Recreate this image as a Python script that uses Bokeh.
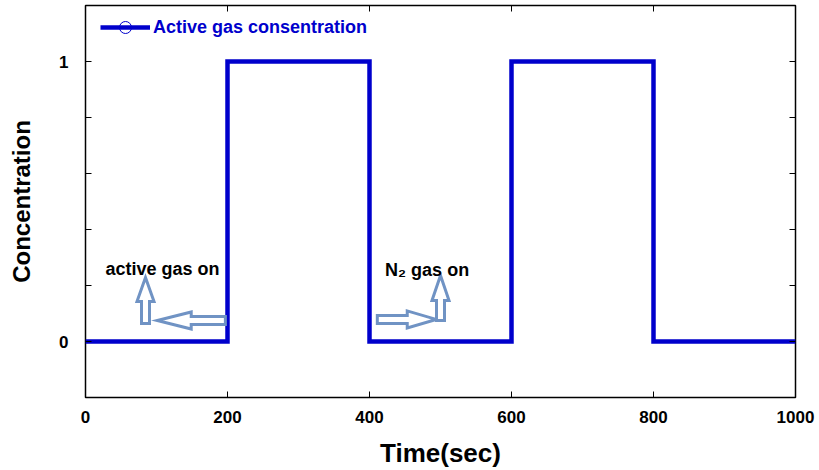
import numpy as np
from bokeh.plotting import figure
from bokeh.models import (FixedTicker, LinearAxis, Legend, LegendItem, Label,
                          ColumnDataSource, Range1d)
from bokeh.embed import file_html
from bokeh.resources import INLINE

# ---- data ----
time_s = [0, 200, 400, 600, 800, 1000]
concentration = [0, 1, 0, 1, 0, 0]
x_ticks = [0, 200, 400, 600, 800, 1000]
y_labelled_ticks = [0, 1]
y_minor_ticks = [0.2, 0.4, 0.6, 0.8]
y_all_ticks = [0, 0.2, 0.4, 0.6, 0.8, 1.0]
top_ticks = [200, 400, 600, 800]
series_name = "Active gas consentration"
x_title = "Time(sec)"
y_title = "Concentration"
note_texts = ["active gas on", "N\u2082 gas on"]
note_x = [28, 422]
note_y = [0.26, 0.257]
# arrows: tail (x, y) -> tip (x, y), in data units
arrow_tail_x = [84.5, 197, 411, 500]
arrow_tail_y = [0.064, 0.075, 0.079, 0.075]
arrow_tip_x = [84.5, 101, 494, 500]
arrow_tip_y = [0.229, 0.075, 0.079, 0.236]
arrow_head_px = [24, 34, 29, 25]

# ---- layout ----
W, H = 819, 470
ML, MR, MT, MB = 85, 24, 5, 73
FW = W - ML - MR
FH = H - MT - MB
X0, X1 = 0, 1000
Y0, Y1 = -0.2, 1.2
BLUE = "#0000CC"
ARROW = "#7093C4"
FONT = "Liberation Sans"

p = figure(width=W, height=H, x_range=Range1d(X0, X1), y_range=Range1d(Y0, Y1),
           output_backend="svg", toolbar_location=None,
           min_border_left=ML, min_border_right=MR, min_border_top=MT,
           min_border_bottom=MB, background_fill_color="white",
           border_fill_color="white")
p.xgrid.visible = False
p.ygrid.visible = False
p.outline_line_color = "black"
p.outline_line_width = 1.5
# range used only so that the curve's symbols stay out of view (legend shows them)
p.extra_y_ranges = {"symbols": Range1d(100, 101)}

def style_axis(ax, ticks, minor):
    ax.ticker = FixedTicker(ticks=ticks, minor_ticks=minor)
    ax.axis_line_color = None
    ax.major_tick_in = 6
    ax.major_tick_out = 0
    ax.minor_tick_in = 6
    ax.minor_tick_out = 0
    ax.major_tick_line_color = "black"
    ax.minor_tick_line_color = "black"
    ax.major_tick_line_width = 1
    ax.minor_tick_line_width = 1
    ax.major_label_text_font = FONT
    ax.major_label_text_font_style = "bold"
    ax.major_label_text_color = "black"
    ax.major_label_text_font_size = "17px"
    ax.axis_label_text_font = FONT
    ax.axis_label_text_font_style = "bold"
    ax.axis_label_text_color = "black"

xa = p.xaxis[0]
style_axis(xa, x_ticks, [])
xa.major_label_standoff = 13
xa.axis_label = x_title
xa.axis_label_text_font_size = "26px"
xa.axis_label_standoff = 12

ya = p.yaxis[0]
style_axis(ya, y_labelled_ticks, y_minor_ticks)
ya.major_label_standoff = 17
ya.axis_label = y_title
ya.axis_label_text_font_size = "24px"
ya.axis_label_standoff = 21

top = LinearAxis()
style_axis(top, [], top_ticks)
top.major_label_standoff = 0
p.add_layout(top, "above")
right = LinearAxis()
style_axis(right, [], y_all_ticks)
right.major_label_standoff = 0
p.add_layout(right, "right")

src = ColumnDataSource(dict(t=time_s, c=concentration))
r_line = p.step(x="t", y="c", source=src, mode="after", line_width=4.5,
                line_color=BLUE, line_join="miter")
r_mark = p.scatter(x="t", y="c", source=src, y_range_name="symbols",
                   marker="circle", size=12, fill_color=None,
                   line_color=BLUE, line_width=1)

# arrows as hollow block arrows
sx = FW / (X1 - X0)
sy = FH / (Y1 - Y0)
xs_all, ys_all = [], []
for tx, ty, hx, hy, hl in zip(arrow_tail_x, arrow_tail_y, arrow_tip_x, arrow_tip_y, arrow_head_px):
    a = np.array([tx * sx, ty * sy])
    b = np.array([hx * sx, hy * sy])
    d = b - a
    L = np.hypot(*d)
    u = d / L
    n = np.array([-u[1], u[0]])
    sw, hw = 4.0, 8.5
    base = b - u * hl
    pts = [a + n * sw, base + n * sw, base + n * hw, b,
           base - n * hw, base - n * sw, a - n * sw]
    xs_all.append([q[0] / sx for q in pts])
    ys_all.append([q[1] / sy for q in pts])
p.patches(xs_all, ys_all, fill_color="white", line_color=ARROW, line_width=3,
          line_join="miter")

for txt, x, y in zip(note_texts, note_x, note_y):
    p.add_layout(Label(x=x, y=y, text=txt, text_font=FONT, text_font_style="bold",
                       text_font_size="18px", text_baseline="middle",
                       text_align="left", text_color="black"))

GH = 30
legend = Legend(items=[LegendItem(label=series_name, renderers=[r_line, r_mark])],
                location=(15, FH - 7 - GH), border_line_color=None,
                background_fill_alpha=0, padding=0, margin=0, spacing=0,
                glyph_width=50, glyph_height=GH, label_standoff=3,
                label_height=GH,
                label_text_font=FONT, label_text_font_style="bold",
                label_text_font_size="18px", label_text_color=BLUE)
p.add_layout(legend)

open("out.html", "w").write(file_html(p, INLINE))
